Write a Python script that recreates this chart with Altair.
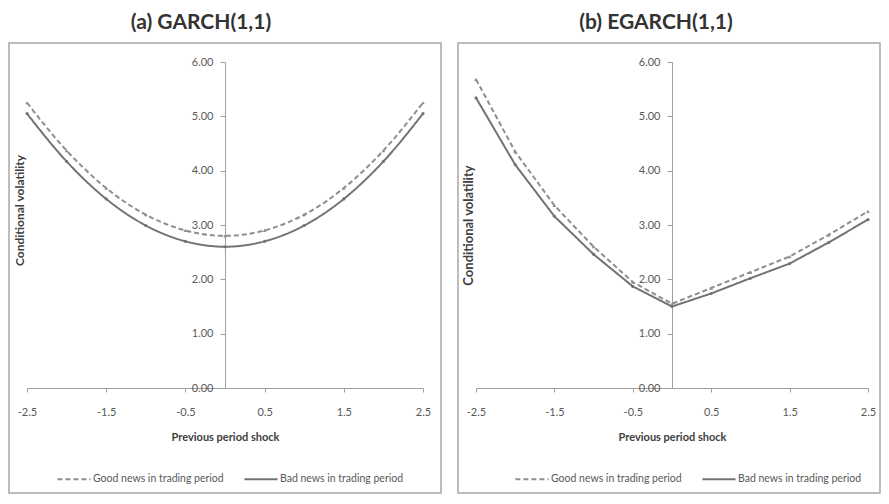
import altair as alt
import pandas as pd

# ---- data ----
shock = [-2.5, -2.0, -1.5, -1.0, -0.5, 0.0, 0.5, 1.0, 1.5, 2.0, 2.5]
garch_good = [5.25, 4.37, 3.68, 3.19, 2.90, 2.80, 2.90, 3.19, 3.68, 4.37, 5.25]
garch_bad = [5.05, 4.17, 3.48, 2.99, 2.70, 2.60, 2.70, 2.99, 3.48, 4.17, 5.05]
egarch_good = [5.68, 4.35, 3.36, 2.60, 1.95, 1.55, 1.84, 2.13, 2.42, 2.82, 3.25]
egarch_bad = [5.34, 4.11, 3.16, 2.46, 1.87, 1.50, 1.74, 2.02, 2.29, 2.68, 3.10]
series = ["Good news in trading period", "Bad news in trading period"]
titles = ["(a) GARCH(1,1)", "(b) EGARCH(1,1)"]
x_ticks = [-2.5, -1.5, -0.5, 0.5, 1.5, 2.5]
y_ticks = [0, 1, 2, 3, 4, 5, 6]

line_colors = ["#8e8e8e", "#737373"]
dash_styles = [[5, 3], [1, 0]]
FONT = "Lato"


def panel(good, bad, title, w, h, interp, ytitle_y, ytitle_size, box_right,
          legend_x, title_dx):
    n = len(shock)
    df = pd.DataFrame({
        "shock": shock + shock,
        "vol": good + bad,
        "series": [series[0]] * n + [series[1]] * n,
    })
    legend = alt.Legend(
        title=None, orient="none", legendX=legend_x, legendY=h + 73,
        direction="horizontal", symbolType="stroke", symbolSize=1100,
        symbolStrokeWidth=2, labelFont=FONT, labelFontSize=10.5,
        labelColor="#595959", columnPadding=16, labelOffset=1,
    )
    x_enc = alt.X(
        "shock:Q",
        scale=alt.Scale(domain=[-2.5, 2.5], nice=False, zero=False),
        axis=alt.Axis(
            values=x_ticks, labelExpr="datum.value + ''",
            title="Previous period shock", labelFlush=False,
            tickSize=4, labelPadding=14, titlePadding=14, grid=False,
        ),
    )
    y_enc = alt.Y(
        "vol:Q",
        scale=alt.Scale(domain=[0, 6], nice=False, zero=True),
        axis=alt.Axis(
            values=y_ticks, format=".2f", offset=-w / 2, grid=False,
            title="Conditional volatility", titleX=-(w / 2) - 8,
            titleY=ytitle_y, titleAngle=270, titleAlign="center",
            titleBaseline="middle", titleFontSize=ytitle_size,
            tickSize=5, labelPadding=7,
        ),
    )
    lines = alt.Chart(df).mark_line(strokeWidth=2, interpolate=interp).encode(
        x=x_enc, y=y_enc,
        color=alt.Color("series:N", scale=alt.Scale(domain=series, range=line_colors), legend=legend),
        strokeDash=alt.StrokeDash("series:N", scale=alt.Scale(domain=series, range=dash_styles), legend=legend),
    )
    pts_good = alt.Chart(df).transform_filter(alt.datum.series == series[0]).mark_point(
        shape="triangle-up", size=14, filled=True, color=line_colors[0], opacity=1
    ).encode(x=x_enc, y=y_enc)
    pts_bad = alt.Chart(df).transform_filter(alt.datum.series == series[1]).mark_point(
        shape="circle", size=10, filled=True, color=line_colors[1], opacity=1
    ).encode(x=x_enc, y=y_enc)
    box = alt.Chart(pd.DataFrame({"k": [0]})).mark_rect(
        fillOpacity=0, stroke="#a8a8a8", strokeWidth=1.5
    ).encode(
        x=alt.value(-18), x2=alt.value(box_right),
        y=alt.value(-19), y2=alt.value(h + 105),
    )
    return alt.layer(box, lines, pts_good, pts_bad).properties(
        width=w, height=h,
        title=alt.TitleParams(
            text=title, font=FONT, fontSize=21, fontWeight="bold",
            color="#333333", anchor="middle", frame="group", dx=title_dx, offset=9,
        ),
    )


pa = panel(garch_good, garch_bad, titles[0], 396, 326, "monotone", 148, 12, 414, 29, -24)
pb = panel(egarch_good, egarch_bad, titles[1], 392, 326, "linear", 163, 13, 404, 38, -16)

chart = alt.hconcat(pa, pb, spacing=15).resolve_scale(
    color="independent", strokeDash="independent"
).resolve_legend(
    color="independent", strokeDash="independent"
).properties(
    padding={"top": 4, "left": 0, "right": 0, "bottom": 0}, background="white"
).configure_view(stroke=None).configure_axis(
    domainColor="#a0a0a0", tickColor="#a0a0a0", domainWidth=1,
    labelFont=FONT, labelFontSize=11, labelColor="#595959",
    titleFont=FONT, titleFontSize=11, titleColor="#404040", titleFontWeight="bold",
)

chart.save("out.html", embed_options={"renderer": "svg", "actions": False})
